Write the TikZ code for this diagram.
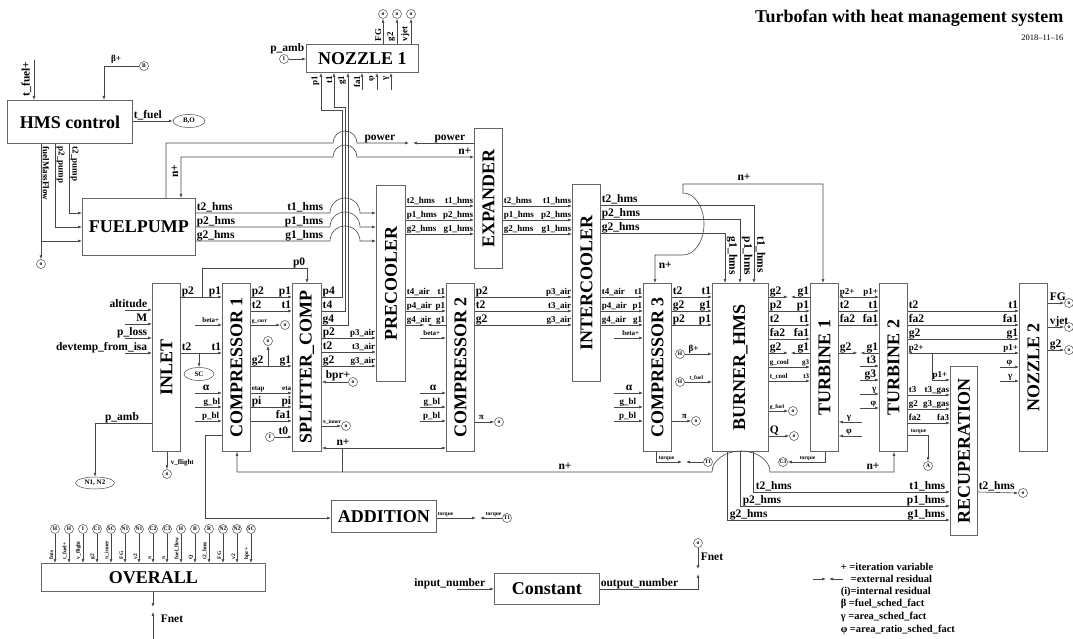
\documentclass[tikz,border=0pt]{standalone}
\usepackage{fontspec}
\setmainfont{Liberation Serif}
\usetikzlibrary{arrows.meta, calc, shapes.geometric}

\newcommand{\fblk}{\fontsize{18}{18}\selectfont\bfseries}
\newcommand{\ftitle}{\fontsize{18}{18}\selectfont\bfseries}
\newcommand{\fport}{\fontsize{11.5}{12}\selectfont\bfseries}
\newcommand{\fleg}{\fontsize{10.5}{11}\selectfont\bfseries}
\newcommand{\fsml}{\fontsize{9}{9}\selectfont\bfseries}
\newcommand{\ftny}{\fontsize{7}{7}\selectfont\bfseries}
\newcommand{\fmic}{\fontsize{5.5}{5.5}\selectfont\bfseries}

% port link: [style] from, to, y, left font, left label, right font, right label
\newcommand{\portlink}[8][]{%
  \draw[sig, #1] (#2.east |- 0,#4) -- (#3.west |- 0,#4)
    node[lblw, pos=0, font=#5] {#6}
    node[lble, pos=1, font=#7] {#8};}

% external residual: two arrows meeting half way
\newcommand{\reslink}[7]{%
  \coordinate (ra) at (#1.east |- 0,#3);
  \coordinate (rb) at (#2.west |- 0,#3);
  \coordinate (rm) at ($(ra)!0.5!(rb)$);
  \draw[sig] (ra) -- ($(rm)+(-1.5,0)$) node[lblw, pos=0, font=#4] {#5};
  \draw[sig] (rb) -- ($(rm)+(1.5,0)$) node[lble, pos=0, font=#6] {#7};}

\begin{document}
\begin{tikzpicture}[x=1pt, y=-1pt,
    >={Latex[length=4pt, width=3pt]},
    blk/.style={draw=black!60, line width=0.9pt, inner sep=0pt, anchor=north west},
    vtxt/.style={rotate=90, font=\fblk, inner sep=0pt},
    sig/.style={draw=black!72, line width=0.6pt, ->},
    plain/.style={draw=black!72, line width=0.6pt},
    lbl/.style={inner sep=0.6pt, text=black},
    lblw/.style={lbl, anchor=base west, yshift=2.5pt},
    lble/.style={lbl, anchor=base east, yshift=2.5pt},
    circ/.style={circle, draw=black!70, line width=0.5pt, inner sep=0pt, minimum size=9pt, font=\fmic},
    ell/.style={ellipse, draw=black!70, line width=0.5pt, inner sep=0pt, font=\ftny},
  ]

  \useasboundingbox (0,0) rectangle (1073,639);

  % Title
  \node[anchor=east, font=\ftitle] (title) at (1067,18) {Turbofan with heat management system};
  \node[anchor=east, font=\fontsize{8.5}{9}\selectfont] (date) at (1067,38) {2018--11--16};

  % Blocks
  \node[blk, minimum width=125pt, minimum height=43pt, font=\fblk] (HMS) at (7,100) {HMS control};
  \node[blk, minimum width=113pt, minimum height=57pt, font=\fblk] (FP) at (82,198) {FUELPUMP};
  \node[blk, minimum width=112pt, minimum height=28pt, font=\fblk] (NOZA) at (306,44) {NOZZLE 1};
  \node[blk, minimum width=105pt, minimum height=32pt, font=\fblk] (ADD) at (331,500) {ADDITION};
  \node[blk, minimum width=105pt, minimum height=31pt, font=\fblk] (CONST) at (494,573) {Constant};
  \node[blk, minimum width=224pt, minimum height=28pt, font=\fblk] (OVER) at (41,563) {OVERALL};
  \foreach \nm/\x/\y/\w/\h/\txt in {
      INLET/152/283/28/168/INLET,
      COMPA/222/283/28/168/COMPRESSOR 1,
      SPLIT/292/283/29/168/SPLITTER\_COMP,
      PRE/376/185/29/196/PRECOOLER,
      EXP/474/128/28/140/EXPANDER,
      COMPB/446/283/28/168/COMPRESSOR 2,
      INTER/572/184/28/197/INTERCOOLER,
      COMPC/643/283/28/168/COMPRESSOR 3,
      BURN/712/283/56/168/BURNER\_HMS,
      TURA/810/283/28/168/TURBINE 1,
      TURB/879/283/28/168/TURBINE 2,
      RECUP/950/366/27/169/RECUPERATION,
      NOZB/1019/283/28/168/NOZZLE 2}
    \node[blk, minimum width=\w pt, minimum height=\h pt, label={[vtxt]center:\txt}] (\nm) at (\x,\y) {};

  % HMS control
  \node[circ] (cB) at (144,66) {B};
  \node[ell, minimum width=32pt, minimum height=13pt] (eBO) at (189,121) {B,O};
  \draw[sig] (34,60) -- (HMS.north -| 34,0);
  \node[lbl, rotate=90, anchor=south west, font=\fport] at (32,97) {t\_fuel+};
  \draw[sig] (cB.west) -- (104,66) -- (HMS.north -| 104,0);
  \node[lbl, anchor=base, font=\fsml] at (116,62) {β+};
  \draw[sig] (HMS.east |- 0,121) -- (eBO.west) node[lblw, pos=0, font=\fport] {t\_fuel};

  % HMS control to FUELPUMP
  \node[circ] (oFM) at (41,264) {o};
  \draw[sig] (HMS.south -| 41,0) -- (oFM.north);
  \draw[sig] (41,241) -- (FP.west |- 0,241);
  \draw[sig] (HMS.south -| 55,0) -- (55,227) -- (FP.west |- 0,227);
  \draw[sig] (HMS.south -| 69,0) -- (69,213) -- (FP.west |- 0,213);
  \foreach \x/\t in {41/fuelMassFlow, 55/p2\_pump, 69/t2\_pump}
    \node[lbl, rotate=-90, anchor=south west, font=\fsml] at (\x+1,146) {\t};

  % power and n+ over the nozzle lines
  \draw[sig] (FP.north -| 166,0) -- (166,143) -- (333,143) arc[start angle=180, end angle=0, radius=12pt] -- (409,143);
  \draw[sig] (EXP.west |- 0,143) -- (413,143);
  \node[lble, font=\fport] at (396,143) {power};
  \node[lble, font=\fport] at (466,143) {power};
  \draw[sig, <->] (FP.north -| 181,0) -- (181,157) -- (333,157) arc[start angle=180, end angle=0, radius=12pt] -- (EXP.west |- 0,157);
  \node[lble, font=\fport] at (472,157) {n+};
  \node[lbl, rotate=90, anchor=south, font=\fport] at (179,171) {n+};

  % FUELPUMP to PRECOOLER
  \foreach \y/\a/\b in {213/t2/t1, 227/p2/p1, 241/g2/g1}
    \draw[sig] (FP.east |- 0,\y) node[lblw, font=\fport] {\a\_hms} -- (330,\y)
      node[lble, font=\fport, xshift=-6pt] {\b\_hms}
      arc[start angle=180, end angle=0, radius=15pt] -- (PRE.west |- 0,\y);

  % NOZZLE 1
  \node[circ] (cI1) at (284,59) {I};
  \draw[sig] (cI1.east) -- (NOZA.west |- 0,59);
  \node[lbl, anchor=base east, font=\fport] at (305,52) {p\_amb};
  \foreach \x/\t in {383/FG, 397/g2, 411/vjet} {
    \node[circ] (oN\t) at (\x,14) {o};
    \draw[sig] (NOZA.north -| \x,0) -- (oN\t.south);
    \node[lbl, rotate=90, anchor=south west, font=\fsml] at (\x-1,42) {\t};
  }
  \foreach \x in {362, 377, 391}
    \draw[sig] (\x,90) -- (NOZA.south -| \x,0);
  \foreach \x/\t in {321/p1, 334/t1, 348/g1, 362/fa1, 377/φ, 391/γ}
    \node[lbl, rotate=90, anchor=south east, font=\fsml] at (\x-1,75) {\t};
  \draw[sig] (SPLIT.east |- 0,297) -- (342,297) -- (342,110) -- (321,110) -- (NOZA.south -| 321,0);
  \draw[sig] (SPLIT.east |- 0,311) -- (345,311) -- (345,107) -- (334,107) -- (NOZA.south -| 334,0);
  \draw[sig] (SPLIT.east |- 0,325) -- (348,325) -- (NOZA.south -| 348,0);
  \foreach \y/\t in {297/p4, 311/t4, 325/g4}
    \node[lblw, font=\fport] at (SPLIT.east |- 0,\y) {\t};

  % PRECOOLER, EXPANDER, INTERCOOLER hms lines
  \portlink{PRE}{EXP}{206}{\fsml}{t2\_hms}{\fsml}{t1\_hms}
  \portlink{PRE}{EXP}{220}{\fsml}{p1\_hms}{\fsml}{p2\_hms}
  \portlink{PRE}{EXP}{234}{\fsml}{g2\_hms}{\fsml}{g1\_hms}
  \portlink{EXP}{INTER}{206}{\fsml}{t2\_hms}{\fsml}{t1\_hms}
  \portlink{EXP}{INTER}{220}{\fsml}{p1\_hms}{\fsml}{p2\_hms}
  \portlink{EXP}{INTER}{234}{\fsml}{g2\_hms}{\fsml}{g1\_hms}
  \foreach \y/\x/\a in {205/754/t2, 219/740/p2, 233/725/g2}
    \draw[sig] (INTER.east |- 0,\y) node[lblw, font=\fport] {\a\_hms} -- (\x,\y) -- (BURN.north -| \x,0);
  \foreach \x/\t in {725/g1, 740/p1, 754/t1}
    \node[lbl, rotate=-90, anchor=south west, font=\fport] at (\x+1,236) {\t\_hms};

  % n+ to COMPRESSOR 3 and TURBINE 1
  \draw[sig, <->] (COMPC.north -| 655,0) -- (655,255) -- (683,255)
    arc[start angle=-90, end angle=90, x radius=21pt, y radius=31pt] -- (683,184) -- (823,184) -- (TURA.north -| 823,0);
  \node[lbl, anchor=base, font=\fport] at (744,181) {n+};
  \node[lbl, anchor=west, font=\fport] at (658,265) {n+};

  % INLET
  \foreach \y/\t in {310/altitude, 324/M, 338/p\_loss, 353/devtemp\_from\_isa} {
    \draw[sig] (125,\y) -- (INLET.west |- 0,\y);
    \node[lble, font=\fport] at (148,\y) {\t};
  }
  \node[ell, minimum width=39pt, minimum height=12pt] (eNN) at (95,483) {N1, N2};
  \draw[sig] (INLET.west |- 0,423) -- (95,423) -- (eNN.north);
  \node[lbl, anchor=base, font=\fport] at (122,420) {p\_amb};
  \node[circ] (oVF) at (167,474) {o};
  \draw[sig] (INLET.south -| 167,0) -- (oVF.north);
  \node[lbl, anchor=west, font=\ftny] at (170,463) {v\_flight};

  % INLET to COMPRESSOR 1
  \portlink{INLET}{COMPA}{297}{\fport}{p2}{\fport}{p1}
  \portlink{INLET}{COMPA}{353}{\fport}{t2}{\fport}{t1}
  \draw[sig] (202,297) -- (202,268) -- (307,268) -- (SPLIT.north -| 307,0);
  \node[lble, font=\fport] at (306,268) {p0};
  \node[ell, minimum width=30pt, minimum height=13pt] (eSC) at (199,374) {SC};
  \draw[sig] (199,353) -- (eSC.north);
  \foreach \y/\x/\f/\t in {325/220/\ftny/beta+, 393/210/\fport/α, 407/221/\fsml/g\_bl, 421/220/\fsml/p\_bl} {
    \draw[sig] (195,\y) -- (COMPA.west |- 0,\y);
    \node[lble, font=\f] at (\x,\y) {\t};
  }
  \draw[sig] (COMPA.west |- 0,435) -- (205,435) -- (205,518) -- (ADD.west |- 0,518);

  % bottom n+ line
  \draw[sig, <->] (COMPA.south -| 237,0) -- (237,472) -- (712,472)
    arc[start angle=180, end angle=0, x radius=29pt, y radius=21pt] -- (894,472) -- (TURB.south -| 894,0);
  \draw[sig, <->] (SPLIT.east |- 0,448) -- (COMPB.west |- 0,448);
  \draw[plain] (342,448) -- (342,472);
  \node[lbl, anchor=base, font=\fport] at (343,445) {n+};
  \node[lbl, anchor=base, font=\fport] at (565,469) {n+};
  \node[lbl, anchor=base, font=\fport] at (873,469) {n+};

  % COMPRESSOR 1 to SPLITTER_COMP
  \portlink{COMPA}{SPLIT}{297}{\fport}{p2}{\fport}{p1}
  \portlink{COMPA}{SPLIT}{311}{\fport}{t2}{\fport}{t1}
  \node[circ] (oGC) at (285,325) {o};
  \draw[sig] (COMPA.east |- 0,325) -- (oGC.west) node[lblw, pos=0, font=\fmic] {g\_corr};
  \portlink{COMPA}{SPLIT}{366}{\fport}{g2}{\fport}{g1}
  \node[circ] (oG1) at (268,341) {o};
  \draw[sig] (268,366) -- (oG1.south);
  \portlink{COMPA}{SPLIT}{393}{\ftny}{etap}{\ftny}{eta}
  \portlink{COMPA}{SPLIT}{407}{\fport}{pi}{\fport}{pi}
  \portlink{COMPA}{SPLIT}{421}{\fport}{}{\fport}{fa1}
  \node[circ] (cI2) at (270,437) {I};
  \draw[sig] (cI2.east) -- (SPLIT.west |- 0,437) node[lbl, pos=0.5, anchor=base, yshift=2.5pt, font=\fport] {t0};

  % SPLITTER_COMP to PRECOOLER
  \portlink{SPLIT}{PRE}{338}{\fport}{p2}{\fsml}{p3\_air}
  \portlink{SPLIT}{PRE}{352}{\fport}{t2}{\fsml}{t3\_air}
  \portlink{SPLIT}{PRE}{366}{\fport}{g2}{\fsml}{g3\_air}
  \node[circ] (oBPR) at (353,382) {o};
  \draw[sig] (oBPR.west) -- (SPLIT.east |- 0,382);
  \node[lbl, anchor=base west, font=\fport] at (325,378) {bpr+};
  \node[circ] (oPI) at (346,426) {o};
  \draw[sig] (SPLIT.east |- 0,426) -- (oPI.west) node[lblw, pos=0, font=\fmic] {π\_inner};

  % PRECOOLER to COMPRESSOR 2
  \portlink{PRE}{COMPB}{297}{\fsml}{t4\_air}{\fsml}{t1}
  \portlink{PRE}{COMPB}{311}{\fsml}{p4\_air}{\fsml}{p1}
  \reslink{PRE}{COMPB}{325}{\fsml}{g4\_air}{\fsml}{g1}
  \foreach \y/\x/\f/\t in {338/441/\ftny/beta+, 393/437/\fport/α, 407/441/\fsml/g\_bl, 421/441/\fsml/p\_bl} {
    \draw[sig] (420,\y) -- (COMPB.west |- 0,\y);
    \node[lble, font=\f] at (\x,\y) {\t};
  }
  \node[circ] (oPB) at (499,422) {o};
  \draw[sig] (COMPB.east |- 0,422) -- (oPB.west) node[lblw, pos=0, xshift=3pt, font=\fsml] {π};

  % COMPRESSOR 2 to INTERCOOLER
  \portlink{COMPB}{INTER}{297}{\fport}{p2}{\fsml}{p3\_air}
  \portlink{COMPB}{INTER}{311}{\fport}{t2}{\fsml}{t3\_air}
  \portlink{COMPB}{INTER}{325}{\fport}{g2}{\fsml}{g3\_air}

  % INTERCOOLER to COMPRESSOR 3
  \portlink{INTER}{COMPC}{297}{\fsml}{t4\_air}{\fsml}{t1}
  \portlink{INTER}{COMPC}{311}{\fsml}{p4\_air}{\fsml}{p1}
  \portlink{INTER}{COMPC}{325}{\fsml}{g4\_air}{\fsml}{g1}
  \foreach \y/\x/\f/\t in {338/640/\ftny/beta+, 393/633/\fport/α, 407/637/\fsml/g\_bl, 421/637/\fsml/p\_bl} {
    \draw[sig] (614,\y) -- (COMPC.west |- 0,\y);
    \node[lble, font=\f] at (\x,\y) {\t};
  }
  \node[circ] (oPC) at (696,421) {o};
  \draw[sig] (COMPC.east |- 0,421) -- (oPC.west) node[lblw, pos=0, xshift=9pt, font=\fsml] {π};
  \node[circ, font=\fmic] (cT1a) at (708,462) {T1};
  \draw[sig] (COMPC.south -| 656,0) -- (656,462) -- (682,462);
  \draw[sig] (cT1a.west) -- (686,462);
  \node[lblw, font=\fmic] at (658,462) {torque};

  % COMPRESSOR 3 to BURNER_HMS
  \portlink{COMPC}{BURN}{297}{\fport}{t2}{\fport}{t1}
  \portlink{COMPC}{BURN}{311}{\fport}{g2}{\fport}{g1}
  \portlink{COMPC}{BURN}{325}{\fport}{p2}{\fport}{p1}
  \node[circ] (cH1) at (680,354) {H};
  \draw[sig] (cH1.east) -- (BURN.west |- 0,354) node[lblw, pos=0, xshift=3pt, font=\fsml] {β+};
  \node[circ] (cH2) at (680,382) {H};
  \draw[sig] (cH2.east) -- (BURN.west |- 0,382) node[lblw, pos=0, xshift=4pt, font=\fmic] {t\_fuel};

  % BURNER_HMS to TURBINE 1
  \reslink{BURN}{TURA}{297}{\fport}{g2}{\fport}{g1}
  \portlink{BURN}{TURA}{311}{\fport}{p2}{\fport}{p1}
  \portlink{BURN}{TURA}{325}{\fport}{t2}{\fport}{t1}
  \portlink{BURN}{TURA}{339}{\fport}{fa2}{\fport}{fa1}
  \reslink{BURN}{TURA}{353}{\fport}{g2}{\fport}{g1}
  \portlink{BURN}{TURA}{367}{\ftny}{g\_cool}{\ftny}{g3}
  \portlink{BURN}{TURA}{381}{\ftny}{t\_cool}{\ftny}{t3}
  \node[circ] (oGF) at (793,411) {o};
  \draw[sig] (BURN.east |- 0,411) -- (oGF.west) node[lblw, pos=0, font=\fmic] {g\_fuel};
  \node[circ] (oQ) at (794,436) {o};
  \draw[sig] (BURN.east |- 0,436) -- (oQ.west) node[lblw, pos=0, font=\fport] {Q};

  % BURNER_HMS to RECUPERATION
  \foreach \x/\y/\a in {753/492/t, 740/506/p, 727/520/g} {
    \draw[sig] (BURN.south -| \x,0) -- (\x,\y) -- (RECUP.west |- 0,\y);
    \node[lblw, font=\fport] at (\x+2,\y) {\a2\_hms};
    \node[lble, font=\fport] at (946,\y) {\a1\_hms};
  }

  % TURBINE 1 to TURBINE 2
  \portlink[<->]{TURA}{TURB}{297}{\fsml}{p2+}{\fsml}{p1+}
  \portlink{TURA}{TURB}{311}{\fport}{t2}{\fport}{t1}
  \portlink{TURA}{TURB}{325}{\fport}{fa2}{\fport}{fa1}
  \reslink{TURA}{TURB}{353}{\fport}{g2}{\fport}{g1}
  \foreach \y/\f/\t in {366/\fport/t3, 380/\fport/g3, 394/\fsml/γ, 408/\fsml/φ} {
    \draw[sig] (860,\y) -- (TURB.west |- 0,\y);
    \node[lble, font=\f] at (877,\y) {\t};
  }
  \foreach \y/\t in {422/γ, 436/φ} {
    \draw[sig] (862,\y) -- (TURA.east |- 0,\y);
    \node[lbl, anchor=base, font=\fsml] at (849,\y-2.5) {\t};
  }
  \node[circ, font=\fmic] (cC3) at (783,462) {C3};
  \draw[sig] (TURA.south -| 825,0) -- (825,462) -- (cC3.east);
  \node[lblw, font=\fmic] at (799,462) {torque};

  % TURBINE 2 to NOZZLE 2 and RECUPERATION
  \portlink{TURB}{NOZB}{311}{\fport}{t2}{\fport}{t1}
  \portlink{TURB}{NOZB}{325}{\fport}{fa2}{\fport}{fa1}
  \portlink{TURB}{NOZB}{339}{\fport}{g2}{\fport}{g1}
  \portlink[<->]{TURB}{NOZB}{353}{\fsml}{p2+}{\fsml}{p1+}
  \draw[sig] (932,353) -- (932,380) -- (RECUP.west |- 0,380);
  \node[lble, font=\fsml] at (948,380) {p1+};
  \portlink{TURB}{RECUP}{395}{\fsml}{t3}{\fsml}{t3\_gas}
  \portlink{TURB}{RECUP}{409}{\fsml}{g2}{\fsml}{g3\_gas}
  \portlink{TURB}{RECUP}{423}{\fsml}{fa2}{\fsml}{fa3}
  \node[circ] (cA) at (928,466) {A};
  \draw[sig] (TURB.east |- 0,435) -- (928,435) -- (cA.north);
  \node[lblw, font=\fmic] at (910,435) {torque};
  \foreach \y/\t in {367/φ, 381/γ} {
    \draw[sig] (1000,\y) -- (NOZB.west |- 0,\y);
    \node[lble, font=\fsml] at (1013,\y) {\t};
  }
  \foreach \y/\t in {303/FG, 327/vjet, 350/g2} {
    \node[circ] (oNB\t) at (1069,\y) {o};
    \draw[sig] (NOZB.east |- 0,\y) -- (oNB\t.west);
    \node[lblw, font=\fport] at (1049,\y) {\t};
  }

  % RECUPERATION output
  \node[circ] (oRC) at (1023,493) {o};
  \draw[sig] (RECUP.east |- 0,492) -- (oRC.west) node[lblw, pos=0, font=\fport] {t2\_hms};

  % ADDITION
  \node[circ, font=\fmic] (cT1b) at (507,518) {T1};
  \draw[sig] (ADD.east |- 0,518) -- (476,518) node[lblw, pos=0, font=\fmic] {torque};
  \draw[sig] (cT1b.west) -- (480,518) node[lble, pos=0, font=\fmic] {torque};

  % Constant
  \draw[sig] (457,589) -- (CONST.west |- 0,589);
  \node[lble, font=\fport] at (486,589) {input\_number};
  \node[circ] (oFN) at (698,543) {o};
  \draw[sig] (CONST.east |- 0,589) node[lblw, font=\fport] {output\_number} -- (698,589) -- (698,574);
  \draw[sig] (oFN.south) -- (698,569);
  \node[lbl, anchor=west, font=\fport] at (700,557) {Fnet};

  % OVERALL
  \foreach \i/\c/\t in {0/H/fms, 1/H/t\_fuel+, 2/I/v\_flight, 3/C1/g2, 4/SC/π\_inner,
      5/N1/FG, 6/N1/v2, 7/C2/π, 8/C3/π, 9/H/fuel\_flow, 10/B/Q, 11/R/t2\_hms,
      12/N2/FG, 13/N2/v2, 14/SC/bpr+} {
    \node[circ] (cOV\i) at (55+14*\i,529) {\c};
    \draw[sig] (cOV\i.south) -- (OVER.north -| cOV\i.south);
    \node[lbl, rotate=90, anchor=south west, font=\fmic] at (54+14*\i,560) {\t};
  }
  \draw[sig] (OVER.south -| 153,0) -- (153,607);
  \draw[sig] (153,639) -- (153,612);
  \node[lbl, anchor=west, font=\fport] at (160,619) {Fnet};

  % Legend
  \node[lbl, anchor=west, font=\fleg] (leg1) at (840,567) {+ =iteration variable};
  \draw[sig] (813,579) -- (826,579);
  \draw[sig] (843,579) -- (829,579);
  \node[lbl, anchor=west, font=\fleg] (leg2) at (850,579) {=external residual};
  \node[lbl, anchor=west, font=\fleg] (leg3) at (840,592) {(i)=internal residual};
  \node[lbl, anchor=west, font=\fleg] (leg4) at (840,604) {β =fuel\_sched\_fact};
  \node[lbl, anchor=west, font=\fleg] (leg5) at (840,617) {γ =area\_sched\_fact};
  \node[lbl, anchor=west, font=\fleg] (leg6) at (840,630) {φ =area\_ratio\_sched\_fact};

\end{tikzpicture}
\end{document}
